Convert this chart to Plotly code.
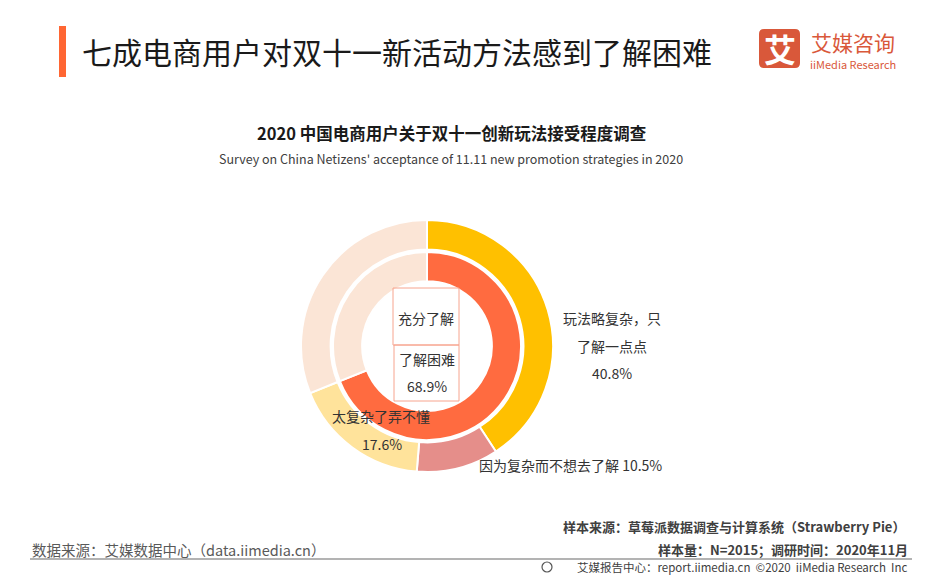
import plotly.graph_objects as go

# 内圈：了解程度
inner_labels = ["了解困难", "充分了解"]
inner_values = [68.9, 31.1]
inner_colors = ["#FF6B40", "#FBE5D6"]

# 外圈：了解困难的细分
outer_labels = ["玩法略复杂，只了解一点点", "因为复杂而不想去了解", "太复杂了弄不懂", "充分了解"]
outer_values = [40.8, 10.5, 17.6, 31.1]
outer_colors = ["#FFC000", "#E58E8A", "#FFE39B", "#FBE5D6"]

# 页面 body 有 8px 外边距，图放在 (8, 8)
OFF = 8
W, H = 946 - 2 * OFF, 584 - 2 * OFF
CX, CY = 427, 346          # 圆心（页面像素）
R_OUT, R_IN = 126, 94      # 外圈 / 内圈半径


def px(x, y):
    # 页面像素 -> paper 坐标
    return (x - OFF) / W, 1 - (y - OFF) / H


def dom(r):
    x0, y1 = px(CX - r, CY - r)
    x1, y0 = px(CX + r, CY + r)
    return dict(x=[x0, x1], y=[y0, y1])


fig = go.Figure()

fig.add_trace(go.Pie(
    labels=outer_labels, values=outer_values, sort=False, direction="clockwise",
    hole=0.765, domain=dom(R_OUT), textinfo="none", hoverinfo="label+value",
    marker=dict(colors=outer_colors, line=dict(color="white", width=2)),
    showlegend=False,
))
fig.add_trace(go.Pie(
    labels=inner_labels, values=inner_values, sort=False, direction="clockwise",
    hole=0.69, domain=dom(R_IN), textinfo="none", hoverinfo="label+value",
    marker=dict(colors=inner_colors, line=dict(color="white", width=2)),
    showlegend=False,
))

CJK = "Noto Sans CJK SC"
ann = []
shapes = []


def text(x, y, s, size=14, color="#333333", xanchor="center", bold=False):
    xx, yy = px(x, y)
    if bold:
        s = "<b>" + s + "</b>"
    ann.append(dict(x=xx, y=yy, xref="paper", yref="paper", text=s, showarrow=False,
                    xanchor=xanchor, yanchor="middle",
                    font=dict(family=CJK, size=size, color=color)))


def rect(x0, y0, x1, y1, fill=None, line=None, lw=0):
    a0, b1 = px(x0, y0)
    a1, b0 = px(x1, y1)
    shapes.append(dict(type="rect", xref="paper", yref="paper", x0=a0, x1=a1, y0=b0, y1=b1,
                       fillcolor=fill or "rgba(0,0,0,0)",
                       line=dict(color=line or "rgba(0,0,0,0)", width=lw)))


# 标题
rect(59, 26, 66, 77, fill="#FF6633")
text(80, 51, "七成电商用户对双十一新活动方法感到了解困难", size=30, color="#1a1a1a", xanchor="left")
text(452, 133, "2020 中国电商用户关于双十一创新玩法接受程度调查", size=16.5, color="#1a1a1a", bold=True)
text(451, 158, "Survey on China Netizens' acceptance of 11.11 new promotion strategies in 2020",
     size=12.5, color="#404040")

# 标签
text(612, 318, "玩法略复杂，只", size=14)
text(612, 346, "了解一点点", size=14)
text(612, 373, "40.8%", size=14)
text(381, 416, "太复杂了弄不懂", size=14)
text(382, 444, "17.6%", size=14)
text(570, 465, "因为复杂而不想去了解 10.5%", size=14)

# 中心的两个框
rect(393, 288, 459, 345, line="#F7A48E", lw=1)
rect(394, 345, 459, 401, line="#F7A48E", lw=1)
text(426, 318, "充分了解", size=14)
text(427, 359, "了解困难", size=14)
text(427, 386, "68.9%", size=14)

# 页脚
text(30, 549, "数据来源：艾媒数据中心（data.iimedia.cn）", size=14.5, color="#595959", xanchor="left")
text(907, 526, "样本来源：草莓派数据调查与计算系统（Strawberry Pie）", size=13, color="#404040",
     xanchor="right", bold=True)
text(910, 549, "样本量：N=2015；调研时间：2020年11月", size=13, color="#404040", xanchor="right", bold=True)
text(910, 567, "艾媒报告中心：report.iimedia.cn  ©2020  iiMedia Research  Inc", size=11.5,
     color="#404040", xanchor="right")
cx0, cy0 = px(542, 562)
cx1, cy1 = px(552, 572)
shapes.append(dict(type="circle", xref="paper", yref="paper", x0=cx0, x1=cx1, y0=cy1, y1=cy0,
                   line=dict(color="#555555", width=1.2)))
shapes.append(dict(type="line", xref="paper", yref="paper", x0=px(30, 0)[0], x1=px(912, 0)[0],
                   y0=px(0, 559)[1], y1=px(0, 559)[1], line=dict(color="#9A9A9A", width=1.5)))

# 标志
lx0, ly0 = px(759, 29)
lx1, ly1 = px(800, 68)
rx, ry = 5 / W, 5 / H
shapes.append(dict(
    type="path", xref="paper", yref="paper", fillcolor="#D9583A", line=dict(width=0),
    path=(f"M {lx0 + rx} {ly0} L {lx1 - rx} {ly0} Q {lx1} {ly0} {lx1} {ly0 - ry} "
          f"L {lx1} {ly1 + ry} Q {lx1} {ly1} {lx1 - rx} {ly1} L {lx0 + rx} {ly1} "
          f"Q {lx0} {ly1} {lx0} {ly1 + ry} L {lx0} {ly0 - ry} Q {lx0} {ly0} {lx0 + rx} {ly0} Z"),
))
text(780, 48, "艾", size=32, color="white", bold=True)
text(853, 42, "艾媒咨询", size=21, color="#D9583A")
text(853, 64, "iiMedia Research", size=11, color="#D9583A")

fig.update_layout(
    width=W, height=H, margin=dict(l=0, r=0, t=0, b=0),
    paper_bgcolor="white", plot_bgcolor="white",
    annotations=ann, shapes=shapes,
)

fig.write_html("out.html")
